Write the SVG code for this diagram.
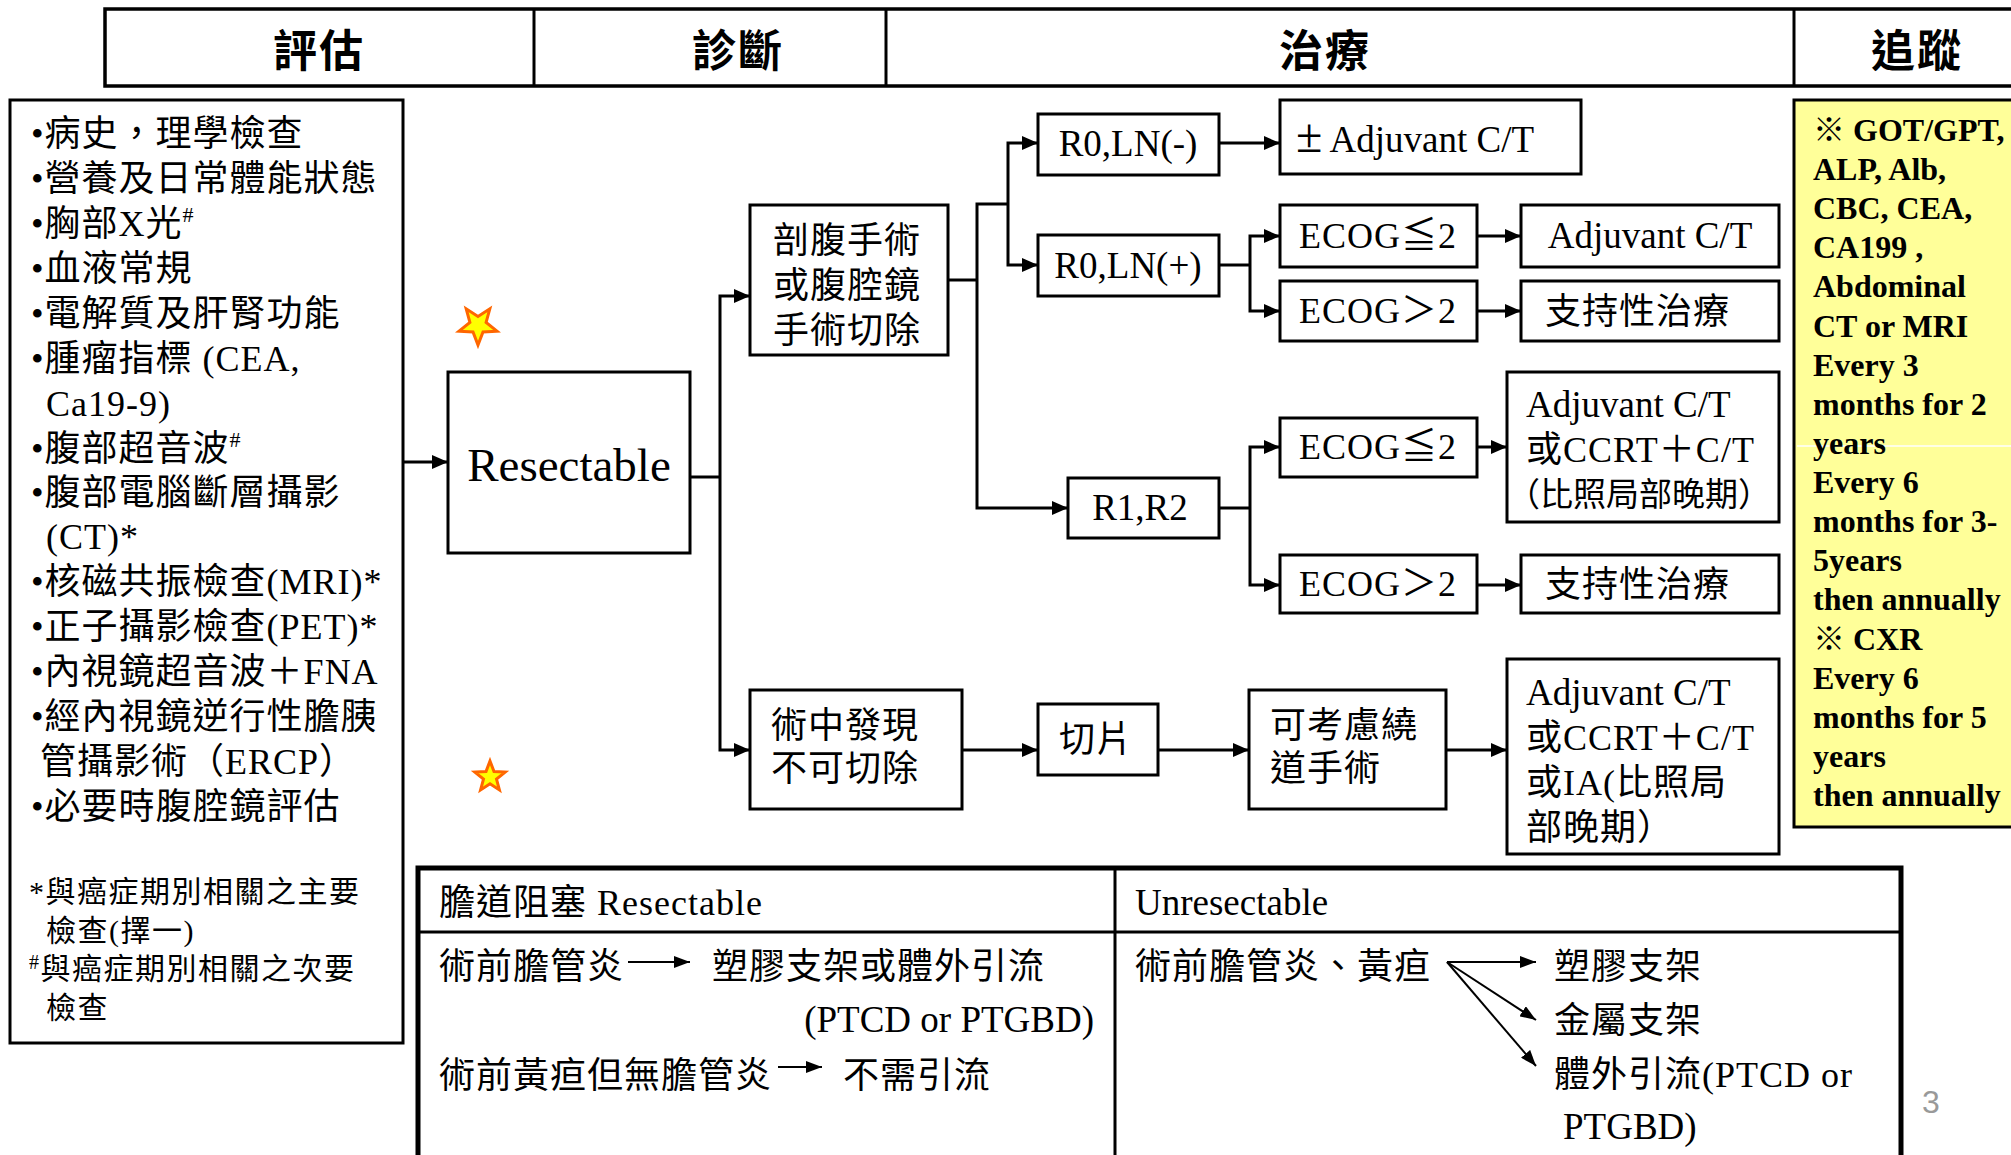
<svg xmlns="http://www.w3.org/2000/svg" width="2011" height="1155" viewBox="0 0 2011 1155">
<defs>
<style>
text { font-family: "Liberation Serif", "Noto Sans CJK TC", serif; fill: #000; }
.t { font-size: 36px; letter-spacing: 1px; }
.l { font-size: 37px; letter-spacing: 0; }
.m { text-anchor: middle; }
.fn { font-size: 30px; letter-spacing: 1.5px; }
.hd { font-family: "Noto Sans CJK TC", sans-serif; font-size: 44px; font-weight: bold; letter-spacing: 2px; text-anchor: middle; }
.y { font-size: 32px; font-weight: bold; }
.box { fill: #fff; stroke: #000; stroke-width: 3; }
.c { fill: none; stroke: #000; stroke-width: 3; }
.ca { fill: none; stroke: #000; stroke-width: 3; marker-end: url(#ah); }
.ta { fill: none; stroke: #000; stroke-width: 2; marker-end: url(#ah2); }
.star { fill: #FFFF00; stroke: #FF6600; stroke-width: 3; stroke-linejoin: miter; }
</style>
<marker id="ah" markerUnits="userSpaceOnUse" markerWidth="16" markerHeight="14" refX="16" refY="7" orient="auto"><path d="M0,0 L16,7 L0,14 z" fill="#000"/></marker>
<marker id="ah2" markerUnits="userSpaceOnUse" markerWidth="16" markerHeight="12" refX="16" refY="6" orient="auto"><path d="M0,0 L16,6 L0,12 z" fill="#000"/></marker>
</defs>
<rect x="0" y="0" width="2011" height="1155" fill="#fff"/>

<g id="header">
<rect x="105" y="9" width="1930" height="77" fill="none" stroke="#000" stroke-width="3.5"/>
<line x1="534" y1="9" x2="534" y2="86" stroke="#000" stroke-width="3"/>
<line x1="886" y1="9" x2="886" y2="86" stroke="#000" stroke-width="3"/>
<line x1="1794" y1="9" x2="1794" y2="86" stroke="#000" stroke-width="3"/>
<text class="hd" x="319" y="67">評估</text>
<text class="hd" x="738" y="67">診斷</text>
<text class="hd" x="1325" y="67">治療</text>
<text class="hd" x="1917" y="67">追蹤</text>
</g>

<g id="assessment">
<rect class="box" x="10" y="100" width="393" height="943"/>
<text class="t" x="31" y="146">•病史，理學檢查</text>
<text class="t" x="31" y="191">•營養及日常體能狀態</text>
<text class="t" x="31" y="236">•胸部X光<tspan font-size="22" dy="-14">#</tspan></text>
<text class="t" x="31" y="281">•血液常規</text>
<text class="t" x="31" y="326">•電解質及肝腎功能</text>
<text class="t" x="31" y="371">•腫瘤指標 (CEA,</text>
<text class="t" x="46" y="416">Ca19-9)</text>
<text class="t" x="31" y="461">•腹部超音波<tspan font-size="22" dy="-14">#</tspan></text>
<text class="t" x="31" y="505">•腹部電腦斷層攝影</text>
<text class="t" x="46" y="549">(CT)*</text>
<text class="t" x="31" y="594">•核磁共振檢查(MRI)*</text>
<text class="t" x="31" y="639">•正子攝影檢查(PET)*</text>
<text class="t" x="31" y="684">•內視鏡超音波＋FNA</text>
<text class="t" x="31" y="729">•經內視鏡逆行性膽胰</text>
<text class="t" x="40" y="774">管攝影術（ERCP）</text>
<text class="t" x="31" y="819">•必要時腹腔鏡評估</text>
<text class="fn" x="29" y="902">*與癌症期別相關之主要</text>
<text class="fn" x="46" y="941">檢查(擇一)</text>
<text class="fn" x="29" y="979"><tspan font-size="20" dy="-10">#</tspan><tspan dy="10">與癌症期別相關之次要</tspan></text>
<text class="fn" x="46" y="1018">檢查</text>
</g>

<g id="stars">
<polygon class="star" points="478,345 483,331.9 497,331.2 486.1,322.4 489.8,308.8 478,316.5 466.2,308.8 469.9,322.4 459,331.2 473,331.9"/>
<polygon class="star" stroke-width="2.5" points="490,761 494,771.5 505.2,772.1 496.5,779.1 499.4,789.9 490,783.8 480.6,789.9 483.5,779.1 474.8,772.1 486,771.5"/>
</g>

<g id="connectors">
<path class="ca" d="M403,462 H448"/>
<path class="c" d="M690,477 H720"/>
<path class="ca" d="M720,477 V296 H750"/>
<path class="ca" d="M720,477 V750 H750"/>
<path class="c" d="M948,280 H977"/>
<path class="c" d="M977,280 V204 H1008"/>
<path class="ca" d="M1008,204 V143 H1038"/>
<path class="ca" d="M1008,204 V265 H1038"/>
<path class="ca" d="M977,280 V508 H1068"/>
<path class="ca" d="M1219,143 H1280"/>
<path class="c" d="M1219,265 H1250"/>
<path class="ca" d="M1250,265 V236 H1280"/>
<path class="ca" d="M1250,265 V311 H1280"/>
<path class="ca" d="M1477,236 H1521"/>
<path class="ca" d="M1477,311 H1521"/>
<path class="c" d="M1219,508 H1250"/>
<path class="ca" d="M1250,508 V447 H1280"/>
<path class="ca" d="M1250,508 V585 H1280"/>
<path class="ca" d="M1477,447 H1507"/>
<path class="ca" d="M1477,585 H1521"/>
<path class="ca" d="M962,750 H1038"/>
<path class="ca" d="M1158,750 H1249"/>
<path class="ca" d="M1446,750 H1507"/>
<path class="ta" d="M628,962 H690"/>
<path class="ta" d="M778,1067 H822"/>
<path class="ta" d="M1447,962 H1536"/>
<path class="ta" d="M1447,962 L1536,1020"/>
<path class="ta" d="M1447,962 L1536,1066"/>
</g>

<g id="resectable">
<rect class="box" x="448" y="372" width="242" height="181"/>
<text x="569" y="481" style="font-size:47px" text-anchor="middle">Resectable</text>
</g>

<g id="surgery">
<rect class="box" x="750" y="205" width="198" height="150"/>
<text class="t" x="773" y="253">剖腹手術</text>
<text class="t" x="773" y="298">或腹腔鏡</text>
<text class="t" x="773" y="343">手術切除</text>
</g>

<g id="intraop">
<rect class="box" x="750" y="690" width="212" height="119"/>
<text class="t" x="771" y="738">術中發現</text>
<text class="t" x="771" y="781">不可切除</text>
</g>

<g id="r0ln-neg">
<rect class="box" x="1038" y="114" width="181" height="61"/>
<text class="t l m" x="1128" y="156">R0,LN(-)</text>
</g>
<g id="r0ln-pos">
<rect class="box" x="1038" y="235" width="181" height="61"/>
<text class="t l m" x="1128" y="278">R0,LN(+)</text>
</g>
<g id="r1r2">
<rect class="box" x="1068" y="478" width="151" height="60"/>
<text class="t l m" x="1140" y="520">R1,R2</text>
</g>

<g id="adj-opt">
<rect class="box" x="1280" y="100" width="301" height="74"/>
<text class="t l" x="1296" y="152"><tspan font-size="48">±</tspan> Adjuvant C/T</text>
</g>
<g id="ecog-le-a">
<rect class="box" x="1280" y="205" width="197" height="62"/>
<text class="t m" x="1378" y="248">ECOG≦2</text>
</g>
<g id="ecog-gt-a">
<rect class="box" x="1280" y="281" width="197" height="60"/>
<text class="t m" x="1378" y="323">ECOG＞2</text>
</g>
<g id="adj-a">
<rect class="box" x="1521" y="205" width="258" height="62"/>
<text class="t l m" x="1650" y="248">Adjuvant C/T</text>
</g>
<g id="support-a">
<rect class="box" x="1521" y="281" width="258" height="60"/>
<text class="t" x="1545" y="324">支持性治療</text>
</g>
<g id="ecog-le-b">
<rect class="box" x="1280" y="418" width="197" height="59"/>
<text class="t m" x="1378" y="459">ECOG≦2</text>
</g>
<g id="ecog-gt-b">
<rect class="box" x="1280" y="555" width="197" height="58"/>
<text class="t m" x="1378" y="596">ECOG＞2</text>
</g>
<g id="adj-ccrt">
<rect class="box" x="1507" y="372" width="272" height="150"/>
<text class="t l" x="1526" y="417">Adjuvant C/T</text>
<text class="t" x="1526" y="462">或CCRT＋C/T</text>
<text x="1507" y="506" style="font-size:33px">（比照局部晚期）</text>
</g>
<g id="support-b">
<rect class="box" x="1521" y="555" width="258" height="58"/>
<text class="t" x="1545" y="597">支持性治療</text>
</g>

<g id="biopsy">
<rect class="box" x="1038" y="704" width="120" height="71"/>
<text class="t" x="1059" y="752">切片</text>
</g>
<g id="bypass">
<rect class="box" x="1249" y="690" width="197" height="119"/>
<text class="t" x="1270" y="738">可考慮繞</text>
<text class="t" x="1270" y="781">道手術</text>
</g>
<g id="adj-ia">
<rect class="box" x="1507" y="659" width="272" height="195"/>
<text class="t l" x="1526" y="705">Adjuvant C/T</text>
<text class="t" x="1526" y="750">或CCRT＋C/T</text>
<text class="t" x="1526" y="795">或IA(比照局</text>
<text class="t" x="1526" y="840">部晚期）</text>
</g>

<g id="followup">
<rect x="1794" y="100" width="240" height="727" fill="#FFFF99" stroke="#000" stroke-width="3"/>
<line x1="1797" y1="446" x2="2011" y2="446" stroke="#fff" stroke-width="1.5"/>
<text class="y" x="1813" y="141">※ GOT/GPT,</text>
<text class="y" x="1813" y="180">ALP, Alb,</text>
<text class="y" x="1813" y="219">CBC, CEA,</text>
<text class="y" x="1813" y="258">CA199 ,</text>
<text class="y" x="1813" y="297">Abdominal</text>
<text class="y" x="1813" y="337">CT or MRI</text>
<text class="y" x="1813" y="376">Every 3</text>
<text class="y" x="1813" y="415">months for 2</text>
<text class="y" x="1813" y="454">years</text>
<text class="y" x="1813" y="493">Every 6</text>
<text class="y" x="1813" y="532">months for 3-</text>
<text class="y" x="1813" y="571">5years</text>
<text class="y" x="1813" y="610">then annually</text>
<text class="y" x="1813" y="650">※ CXR</text>
<text class="y" x="1813" y="689">Every 6</text>
<text class="y" x="1813" y="728">months for 5</text>
<text class="y" x="1813" y="767">years</text>
<text class="y" x="1813" y="806">then annually</text>
</g>

<g id="drainage-table">
<rect x="418" y="868" width="1483" height="320" fill="none" stroke="#000" stroke-width="5"/>
<line x1="418" y1="932" x2="1901" y2="932" stroke="#000" stroke-width="3"/>
<line x1="1115" y1="868" x2="1115" y2="1155" stroke="#000" stroke-width="3"/>
<text class="t" x="439" y="915">膽道阻塞 Resectable</text>
<text class="t" x="439" y="979">術前膽管炎</text>
<text class="t" x="712" y="979">塑膠支架或體外引流</text>
<text class="t l" x="1094" y="1032" text-anchor="end">(PTCD or PTGBD)</text>
<text class="t" x="439" y="1088">術前黃疸但無膽管炎</text>
<text class="t" x="843" y="1088">不需引流</text>
<text class="t l" x="1135" y="915">Unresectable</text>
<text class="t" x="1135" y="979">術前膽管炎、黃疸</text>
<text class="t" x="1554" y="979">塑膠支架</text>
<text class="t" x="1554" y="1033">金屬支架</text>
<text class="t" x="1554" y="1087">體外引流(PTCD or</text>
<text class="t l" x="1563" y="1139">PTGBD)</text>
</g>

<text x="1922" y="1113" style="font-family:'Liberation Sans',sans-serif;font-size:32px;fill:#999">3</text>
</svg>
